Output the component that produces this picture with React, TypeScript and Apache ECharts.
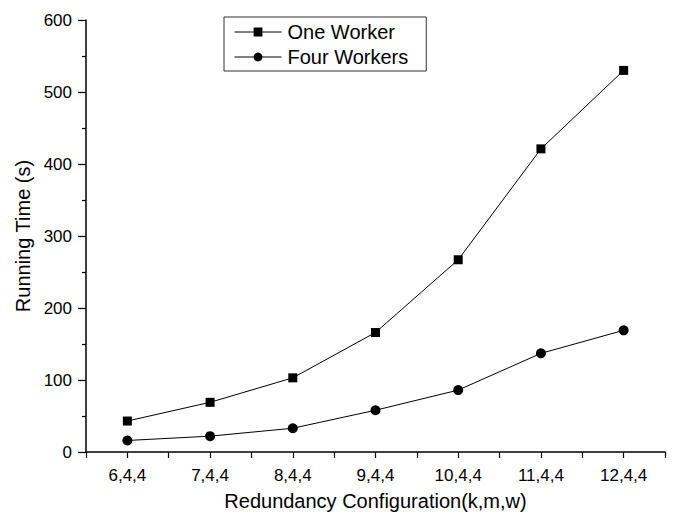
import React, { useEffect, useRef } from "react";
import * as echarts from "echarts";

const categories = ["6,4,4", "7,4,4", "8,4,4", "9,4,4", "10,4,4", "11,4,4", "12,4,4"];
const oneWorker = [43, 69, 103, 166, 267, 421, 530];
const fourWorkers = [16, 22, 33, 58, 86, 137, 169];
const seriesNames = ["One Worker", "Four Workers"];
const yTicks = { min: 0, max: 600, interval: 100 };

const FONT = "'Liberation Sans', Arial, sans-serif";

export default function App() {
  const ref = useRef<HTMLDivElement>(null);
  useEffect(() => {
    if (!ref.current) return;
    const chart = echarts.init(ref.current, undefined, { renderer: "svg" });
    const toPts = (arr: number[]) => arr.map((v, i) => [i, v]);
    chart.setOption({
      animation: false,
      backgroundColor: "#fff",
      textStyle: { fontFamily: FONT, color: "#000" },
      grid: { left: 86, right: 12, top: 20, bottom: 64, containLabel: false, outerBoundsMode: "none" },
      legend: {
        orient: "vertical",
        left: 224,
        top: 17,
        padding: [5, 18, 4, 10],
        itemGap: 5,
        itemWidth: 47,
        itemHeight: 11,
        borderColor: "#333",
        borderWidth: 1,
        lineStyle: { width: 1 },
        textStyle: { fontFamily: FONT, fontSize: 20, color: "#000", padding: [0, 0, 0, 1] },
        data: seriesNames,
      },
      xAxis: {
        type: "value",
        min: -0.5,
        max: categories.length - 0.5,
        interval: 0.5,
        name: "Redundancy Configuration(k,m,w)",
        nameLocation: "middle",
        nameGap: 39,
        nameTextStyle: { fontFamily: FONT, fontSize: 20, color: "#000" },
        axisLine: { show: true, onZero: false, lineStyle: { color: "#000", width: 1.5 } },
        axisTick: { show: true, inside: false, length: 6, lineStyle: { color: "#000", width: 1.2 } },
        splitLine: { show: false },
        axisLabel: {
          margin: 15,
          fontFamily: FONT,
          fontSize: 17,
          color: "#000",
          showMinLabel: true,
          showMaxLabel: true,
          formatter: (v: number) => (Number.isInteger(v) && categories[v] ? categories[v] : ""),
        },
      },
      yAxis: {
        type: "value",
        min: yTicks.min,
        max: yTicks.max,
        interval: yTicks.interval,
        name: "Running Time (s)",
        nameLocation: "middle",
        nameGap: 50,
        nameTextStyle: { fontFamily: FONT, fontSize: 20, color: "#000" },
        axisLine: { show: true, onZero: false, lineStyle: { color: "#000", width: 1.5 } },
        axisTick: { show: true, inside: false, length: 8, lineStyle: { color: "#000", width: 1.2 } },
        minorTick: { show: true, splitNumber: 2, length: 4, lineStyle: { color: "#000", width: 1.2 } },
        splitLine: { show: false },
        axisLabel: { margin: 14, fontFamily: FONT, fontSize: 17, color: "#000" },
      },
      series: [
        {
          name: seriesNames[0],
          type: "line",
          data: toPts(oneWorker),
          symbol: "rect",
          symbolSize: 9,
          lineStyle: { color: "#000", width: 1 },
          itemStyle: { color: "#000" },
        },
        {
          name: seriesNames[1],
          type: "line",
          data: toPts(fourWorkers),
          symbol: "circle",
          symbolSize: 10,
          lineStyle: { color: "#000", width: 1 },
          itemStyle: { color: "#000" },
        },
      ],
    });
    return () => chart.dispose();
  }, []);
  return <div ref={ref} style={{ width: 677, height: 516, position: "absolute", left: 0, top: 0 }} />;
}
